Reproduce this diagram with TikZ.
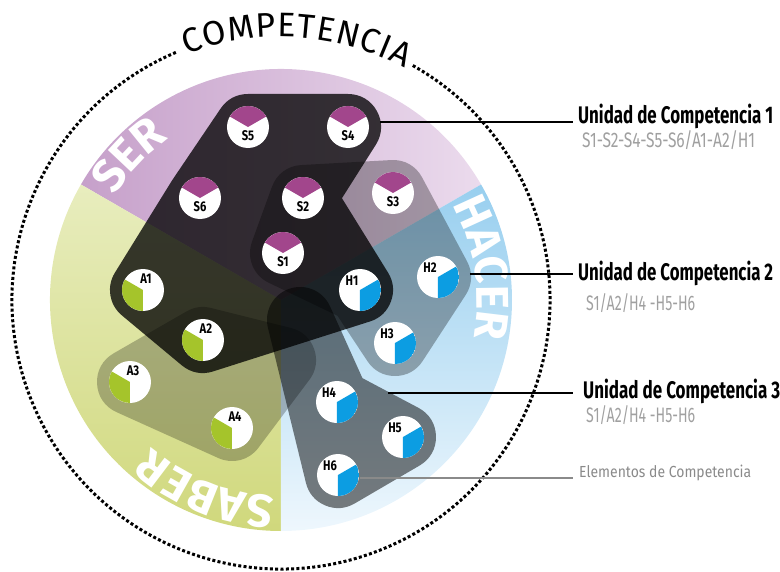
\documentclass[tikz,border=0pt]{standalone}
\usepackage{fontspec}
\setmainfont{Fira Sans}
\usepackage{graphicx}
\usetikzlibrary{decorations.text}

\definecolor{serL}{HTML}{C6A0CA}
\definecolor{serR}{HTML}{EBDBED}
\definecolor{hacT}{HTML}{98CFEF}
\definecolor{hacB}{HTML}{EEF7FD}
\definecolor{sabT}{HTML}{E8EDBE}
\definecolor{sabB}{HTML}{D0D87C}
\definecolor{serW}{HTML}{A2468C}
\definecolor{sabW}{HTML}{A5C42B}
\definecolor{hacW}{HTML}{0C9DE2}
\definecolor{subg}{HTML}{A0A0A0}
\definecolor{elemg}{HTML}{8A8A8A}

\newcommand\cnd[1]{\scalebox{0.8}[1]{#1}}
\newcommand\biglab{\fontsize{46}{46}\selectfont\bfseries\color{white}}

\begin{document}
\begin{tikzpicture}[x=1pt,y=1pt,
  elem/.style={circle, fill=white, minimum size=42pt, inner sep=0pt},
  serelem/.style={elem, path picture={\fill[serW] (path picture bounding box.center) -- ++(30:21pt) arc[start angle=30,end angle=150,radius=21pt] -- cycle;}},
  sabelem/.style={elem, path picture={\fill[sabW] (path picture bounding box.center) -- ++(150:21pt) arc[start angle=150,end angle=270,radius=21pt] -- cycle;}},
  hacelem/.style={elem, path picture={\fill[hacW] (path picture bounding box.center) -- ++(270:21pt) arc[start angle=270,end angle=390,radius=21pt] -- cycle;}},
  lbl/.style={font=\fontsize{14}{14}\selectfont\bfseries, inner sep=0pt, text=black},
  blobfill/.style={fill=black, draw=black, line width=66pt, line join=round},
  dotring/.style={line width=3pt, dash pattern=on 3pt off 2.3pt},
  conn/.style={draw=black, line width=1.1pt},
  connG/.style={draw=elemg, line width=1.1pt},
  rtitle/.style={anchor=base west, inner sep=0pt, text=black},
  rsub/.style={anchor=base west, inner sep=0pt, text=subg},
]
\useasboundingbox (-281,-271) rectangle (499,300);

% sectors
\shade[left color=serL, right color=serR] (0,0) -- (30:231) arc[start angle=30,end angle=150,radius=231] -- cycle;
\shade[top color=sabT, bottom color=sabB] (0,0) -- (150:231) arc[start angle=150,end angle=270,radius=231] -- cycle;
\shade[top color=hacT, bottom color=hacB] (0,0) -- (270:231) arc[start angle=270,end angle=390,radius=231] -- cycle;

% sector labels
\path[decorate, decoration={text along path, text align=left, text={|\biglab|SER}}]
  (148:196) arc[start angle=148, end angle=95, radius=196];
\path[decorate, decoration={text along path, text align=left, text={|\biglab|HACER}}]
  (29:196) arc[start angle=29, end angle=-40, radius=196];
\path[decorate, decoration={text along path, text align=left, text={|\biglab|SABER}}]
  (268:196) arc[start angle=268, end angle=190, radius=196];

% dotted ring and title
\draw[dotring] (113:269) arc[start angle=113, end angle=421, radius=269];
\path[decorate, decoration={text along path, text align=fit to path, text={|\fontsize{34}{34}\selectfont|COMPETENCIA}}]
  (111:263) arc[start angle=111, end angle=62, radius=263];

% element centres
\foreach \n/\x/\y in {S5/-33/173, S4/67/173, S6/-81/102, S2/22/102, S3/112/107, S1/2/47,
  A1/-138/10, H1/79/10, H2/157/23, A2/-78/-40, H3/114/-43, A3/-151/-82, A4/-49/-128,
  H4/56/-102, H5/122/-137, H6/57/-175}
  \coordinate (c\n) at (\x,\y);
\coordinate (cP) at (19,-20);
\coordinate (cQ) at (2,-60);

% blobs
\begin{scope}[transparency group, opacity=0.25]
  \path[blobfill] (cA3) -- (cA2) -- (cQ) -- (cA4) -- cycle;
\end{scope}
\begin{scope}[transparency group, opacity=0.5]
  \path[blobfill] (cP) -- (cH4) -- (cH5) -- (cH6) -- cycle;
\end{scope}
\begin{scope}[transparency group, opacity=0.3]
  \path[blobfill] (cS2) -- (cS3) -- (cH2) -- (cH3) -- (cH1) -- (cS1) -- cycle;
\end{scope}
\begin{scope}[transparency group, opacity=0.77]
  \path[blobfill] (cS5) -- (cS4) -- (cS2) -- (cH1) -- (cA2) -- (cA1) -- (cS6) -- cycle;
\end{scope}

% elements
\foreach \n in {S1,S2,S3,S4,S5,S6} {
  \node[serelem] (\n) at (c\n) {};
  \node[lbl] (\n-t) at ([shift={(0,-9)}]c\n) {\cnd{\n}};
}
\foreach \n in {A1,A2,A3,A4} {
  \node[sabelem] (\n) at (c\n) {};
  \node[lbl] (\n-t) at ([shift={(3,11)}]c\n) {\cnd{\n}};
}
\foreach \n in {H1,H2,H3,H4,H5,H6} {
  \node[hacelem] (\n) at (c\n) {};
  \node[lbl] (\n-t) at ([shift={(-8,9)}]c\n) {\cnd{\n}};
}

% connectors
\coordinate (l1a) at (99,178);  \coordinate (l1b) at (292,178);
\coordinate (l2a) at (189,26);  \coordinate (l2b) at (292,26);
\coordinate (l3a) at (107,-93); \coordinate (l3b) at (292,-93);
\coordinate (l4a) at (79,-178); \coordinate (l4b) at (292,-178);
\draw[conn] (l1a) -- (l1b);
\draw[conn] (l2a) -- (l2b);
\draw[conn] (l3a) -- (l3b);
\draw[connG] (l4a) -- (l4b);

% right texts
\node[rtitle] (t1) at (297,177) {\resizebox{195pt}{\height}{\fontsize{24}{24}\selectfont\bfseries Unidad de Competencia 1}};
\node[rsub] (s1) at (301,153) {\resizebox{173pt}{\height}{\fontsize{21}{21}\selectfont S1-S2-S4-S5-S6/A1-A2/H1}};
\node[rtitle] (t2) at (297,20) {\resizebox{195pt}{\height}{\fontsize{24}{24}\selectfont\bfseries Unidad de Competencia 2}};
\node[rsub] (s2) at (305,-10) {\resizebox{109pt}{\height}{\fontsize{21}{21}\selectfont S1/A2/H4 -H5-H6}};
\node[rtitle] (t3) at (302,-98) {\resizebox{197pt}{\height}{\fontsize{24}{24}\selectfont\bfseries Unidad de Competencia 3}};
\node[rsub] (s3) at (305,-122) {\resizebox{109pt}{\height}{\fontsize{21}{21}\selectfont S1/A2/H4 -H5-H6}};
\node[anchor=base west, inner sep=0pt, text=elemg] (t4) at (298,-177) {\resizebox{172pt}{\height}{\fontsize{16}{16}\selectfont Elementos de Competencia}};
\end{tikzpicture}
\end{document}
